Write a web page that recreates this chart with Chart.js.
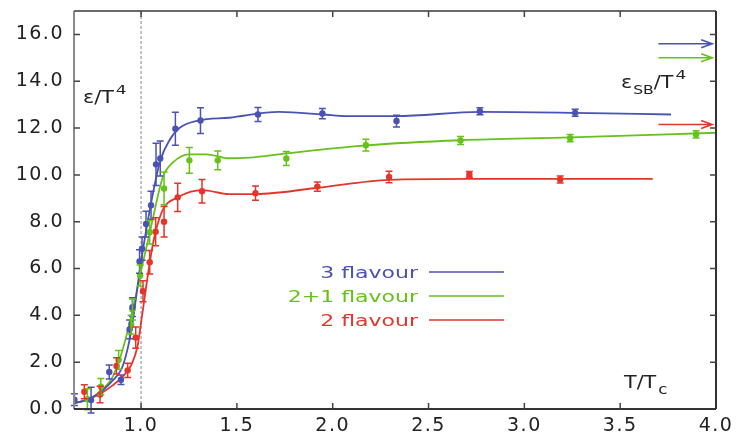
<!DOCTYPE html>
<html><head><meta charset="utf-8">
<script src="https://cdn.jsdelivr.net/npm/chart.js@4.4.0/dist/chart.umd.min.js"></script>
<style>html,body{margin:0;padding:0;background:#fff}#wrap{width:736px;height:439px}</style>
</head><body><div id="wrap"><canvas id="c" width="736" height="439"></canvas></div>
<script>
// ---- tick labels ----
const xTicks = [1.0, 1.5, 2.0, 2.5, 3.0, 3.5, 4.0];
const yTicks = [0, 2, 4, 6, 8, 10, 12, 14, 16];
const seriesNames = ['3 flavour', '2+1 flavour', '2 flavour'];

// ---- 3 flavour: lattice points (T/Tc, eps/T^4, error) ----
const x3 = [0.652, 0.739, 0.834, 0.895, 0.940, 0.955, 0.992, 1.005, 1.026, 1.052, 1.078, 1.100, 1.179, 1.310, 1.610, 1.946, 2.333, 2.768, 3.265];
const y3 = [0.40, 0.38, 1.58, 1.25, 3.40, 4.35, 6.30, 6.85, 7.90, 8.70, 10.45, 10.70, 11.97, 12.32, 12.58, 12.62, 12.30, 12.72, 12.65];
const e3 = [0.25, 0.55, 0.30, 0.20, 0.40, 0.40, 0.50, 0.50, 0.55, 0.60, 0.90, 0.75, 0.70, 0.55, 0.30, 0.22, 0.25, 0.15, 0.15];
// ---- 2+1 flavour ----
const x21 = [0.720, 0.790, 0.883, 0.948, 0.955, 0.995, 1.045, 1.120, 1.252, 1.400, 1.758, 2.173, 2.667, 3.239, 3.896];
const y21 = [0.42, 0.95, 2.10, 3.60, 4.25, 5.70, 7.55, 9.42, 10.62, 10.62, 10.70, 11.27, 11.47, 11.57, 11.73];
const e21 = [0.45, 0.35, 0.40, 0.40, 0.45, 0.45, 0.50, 0.70, 0.55, 0.40, 0.30, 0.25, 0.17, 0.15, 0.15];
// ---- 2 flavour ----
const x2 = [0.704, 0.786, 0.872, 0.930, 0.972, 1.010, 1.045, 1.076, 1.120, 1.191, 1.318, 1.597, 1.920, 2.294, 2.713, 3.187];
const y2 = [0.74, 0.62, 1.84, 1.65, 3.05, 5.03, 6.27, 7.57, 8.00, 9.04, 9.30, 9.22, 9.50, 9.91, 10.02, 9.80];
const e2 = [0.30, 0.35, 0.35, 0.30, 0.45, 0.45, 0.50, 0.60, 0.65, 0.60, 0.50, 0.30, 0.20, 0.25, 0.12, 0.15];

// ---- fitted curves ----
const cx3 = [0.65, 0.70, 0.75, 0.80, 0.85, 0.90, 0.93, 0.95, 1.00, 1.05, 1.10, 1.15, 1.20, 1.30, 1.46, 1.72, 1.95, 2.07, 2.33, 2.77, 3.26, 3.765];
const cy3 = [0.25, 0.35, 0.52, 0.80, 1.20, 1.75, 2.58, 3.40, 6.30, 8.70, 10.60, 11.50, 12.00, 12.32, 12.44, 12.69, 12.58, 12.51, 12.51, 12.69, 12.65, 12.58];
const cx21 = [0.65, 0.70, 0.75, 0.80, 0.85, 0.895, 0.95, 1.00, 1.05, 1.113, 1.165, 1.25, 1.34, 1.46, 1.566, 1.758, 2.173, 2.667, 3.24, 4.00];
const cy21 = [0.25, 0.35, 0.52, 0.85, 1.35, 2.30, 4.00, 5.90, 7.70, 9.89, 10.52, 10.88, 10.88, 10.71, 10.74, 10.92, 11.26, 11.48, 11.60, 11.80];
const cx2 = [0.65, 0.70, 0.75, 0.80, 0.85, 0.90, 0.95, 0.982, 1.00, 1.05, 1.075, 1.118, 1.19, 1.26, 1.32, 1.46, 1.60, 1.92, 2.294, 2.713, 3.19, 3.67];
const cy2 = [0.25, 0.35, 0.50, 0.72, 1.00, 1.35, 1.90, 2.70, 3.70, 6.50, 7.55, 8.58, 9.03, 9.28, 9.35, 9.18, 9.18, 9.45, 9.79, 9.83, 9.83, 9.83];

// ---- Stefan-Boltzmann limits (arrows) ----
const sbValues = [15.6, 15.0, 12.15];
const sbArrowX = [3.70, 3.98];

const colors = ['#4a52b4', '#66c21a', '#e5352a'];

const pts = (xs, ys) => xs.map((x, i) => ({x, y: ys[i]}));
const seriesPts = [[x3, y3, e3], [x21, y21, e21], [x2, y2, e2]];
const curves = [[cx3, cy3], [cx21, cy21], [cx2, cy2]];

const datasets = [];
curves.forEach((c, i) => datasets.push({
  label: seriesNames[i] + ' fit', data: pts(c[0], c[1]), showLine: true, pointRadius: 0,
  borderColor: colors[i], borderWidth: 1.8, cubicInterpolationMode: 'monotone', fill: false, order: 2
}));
seriesPts.forEach((s, i) => datasets.push({
  label: seriesNames[i], data: pts(s[0], s[1]), showLine: false, pointRadius: 3.2,
  pointBackgroundColor: colors[i], pointBorderWidth: 0, order: 1, errs: s[2], col: colors[i]
}));

function stretchText(ctx, txt, x, y, size, sx, align, color, base) {
  ctx.save();
  ctx.letterSpacing = '0px';
  ctx.font = size + 'px "DejaVu Sans"';
  ctx.fillStyle = color;
  ctx.textBaseline = base || 'alphabetic';
  const w = ctx.measureText(txt).width * sx;
  let x0 = x;
  if (align === 'right') x0 = x - w; else if (align === 'center') x0 = x - w / 2;
  ctx.translate(x0, y);
  ctx.scale(sx, 1);
  ctx.textAlign = 'left';
  ctx.fillText(txt, 0, 0);
  ctx.restore();
  return x0 + w;
}

const decor = {
  id: 'decor',
  beforeDraw(chart) { chart.ctx.letterSpacing = '1.5px'; },
  beforeDatasetsDraw(chart) {
    const {ctx, chartArea: a, scales: {x}} = chart;
    ctx.save();
    ctx.strokeStyle = '#b0b0b0'; ctx.lineWidth = 1.5; ctx.setLineDash([3, 2]);
    const px = x.getPixelForValue(1.0);
    ctx.beginPath(); ctx.moveTo(px, a.top); ctx.lineTo(px, a.bottom); ctx.stroke();
    ctx.restore();
  },
  afterDatasetsDraw(chart) {
    const {ctx, chartArea: a, scales: {x, y}} = chart;
    ctx.save();
    // error bars
    chart.data.datasets.forEach(ds => {
      if (!ds.errs) return;
      ctx.strokeStyle = ds.col; ctx.lineWidth = 1.5;
      ds.data.forEach((p, i) => {
        const px = x.getPixelForValue(p.x);
        const y1 = y.getPixelForValue(p.y - ds.errs[i]);
        const y2 = y.getPixelForValue(p.y + ds.errs[i]);
        ctx.beginPath();
        ctx.moveTo(px, y1); ctx.lineTo(px, y2);
        ctx.moveTo(px - 3.5, y1); ctx.lineTo(px + 3.5, y1);
        ctx.moveTo(px - 3.5, y2); ctx.lineTo(px + 3.5, y2);
        ctx.stroke();
      });
    });
    // SB arrows
    sbValues.forEach((v, i) => {
      const py = y.getPixelForValue(v);
      const x0 = x.getPixelForValue(sbArrowX[0]), x1 = x.getPixelForValue(sbArrowX[1]);
      ctx.strokeStyle = colors[i]; ctx.lineWidth = 1.6;
      ctx.beginPath(); ctx.moveTo(x0, py); ctx.lineTo(x1, py);
      ctx.moveTo(x1 - 11, py - 4); ctx.lineTo(x1, py); ctx.lineTo(x1 - 11, py + 4);
      ctx.stroke();
    });
    // frame
    ctx.lineWidth = 2;
    ctx.strokeStyle = '#8a8a8a';
    ctx.beginPath(); ctx.moveTo(a.left, a.top); ctx.lineTo(a.left, a.bottom); ctx.stroke();
    ctx.strokeStyle = '#6a6a6a';
    ctx.beginPath(); ctx.moveTo(a.left, a.top); ctx.lineTo(a.right, a.top); ctx.stroke();
    ctx.strokeStyle = '#333';
    ctx.beginPath(); ctx.moveTo(a.right, a.top); ctx.lineTo(a.right, a.bottom);
    ctx.moveTo(a.left, a.bottom); ctx.lineTo(a.right, a.bottom); ctx.stroke();
    // inward tick marks
    ctx.lineWidth = 1.5; ctx.strokeStyle = '#444';
    ctx.beginPath();
    yTicks.forEach(v => {
      const py = y.getPixelForValue(v);
      if (v > 0) { ctx.moveTo(a.left, py); ctx.lineTo(a.left + 6, py); ctx.moveTo(a.right, py); ctx.lineTo(a.right - 6, py); }
    });
    xTicks.forEach(v => {
      const px = x.getPixelForValue(v);
      if (v < 4) { ctx.moveTo(px, a.bottom); ctx.lineTo(px, a.bottom - 6); ctx.moveTo(px, a.top); ctx.lineTo(px, a.top + 6); }
    });
    ctx.stroke();
    // axis labels
    let e = stretchText(ctx, 'ε/T', 83, 103, 18, 1.15, 'left', '#222');
    stretchText(ctx, '4', e + 2, 94, 13, 1.3, 'left', '#222');
    e = stretchText(ctx, 'ε', 621, 88, 18, 1.15, 'left', '#222');
    e = stretchText(ctx, 'SB', e + 1, 94, 13, 1.2, 'left', '#222');
    e = stretchText(ctx, '/T', e, 88, 18, 1.15, 'left', '#222');
    stretchText(ctx, '4', e + 2, 79, 13, 1.3, 'left', '#222');
    e = stretchText(ctx, 'T/T', 624, 388, 18, 1.15, 'left', '#222');
    stretchText(ctx, 'c', e + 2, 394, 14, 1.2, 'left', '#222');
    // legend
    const ly = [272, 296, 320];
    seriesNames.forEach((n, i) => {
      stretchText(ctx, n, 418, ly[i] + 5.5, 15.5, 1.42, 'right', colors[i]);
      ctx.strokeStyle = colors[i]; ctx.lineWidth = 1.6;
      ctx.beginPath(); ctx.moveTo(429, ly[i]); ctx.lineTo(504, ly[i]); ctx.stroke();
    });
    ctx.restore();
  }
};

const noPad = s => { s.paddingLeft = 0; s.paddingRight = 0; s.paddingTop = 0; s.paddingBottom = 0; };
const tickFont = {family: 'DejaVu Sans', size: 19};
new Chart(document.getElementById('c'), {
  type: 'scatter',
  data: {datasets},
  options: {
    responsive: false, animation: false, devicePixelRatio: 1,
    layout: {padding: {left: 0, right: 20, top: 11, bottom: 0}},
    plugins: {legend: {display: false}, tooltip: {enabled: false}},
    scales: {
      x: {
        type: 'linear', min: 0.65, max: 4.0,
        afterBuildTicks: s => { s.ticks = xTicks.map(v => ({value: v})); },
        afterFit: s => { s.height = 30; noPad(s); },
        ticks: {callback: v => Number(v).toFixed(1), font: tickFont, color: '#222', padding: 6, maxRotation: 0, autoSkip: false},
        grid: {display: false, drawTicks: false}, border: {display: false}
      },
      y: {
        type: 'linear', min: 0, max: 17.0,
        afterBuildTicks: s => { s.ticks = yTicks.map(v => ({value: v})); },
        afterFit: s => { s.width = 74; noPad(s); },
        ticks: {callback: v => Number(v).toFixed(1), font: tickFont, color: '#222', padding: 10, autoSkip: false},
        grid: {display: false, drawTicks: false}, border: {display: false}
      }
    }
  },
  plugins: [decor]
});
</script></body></html>
